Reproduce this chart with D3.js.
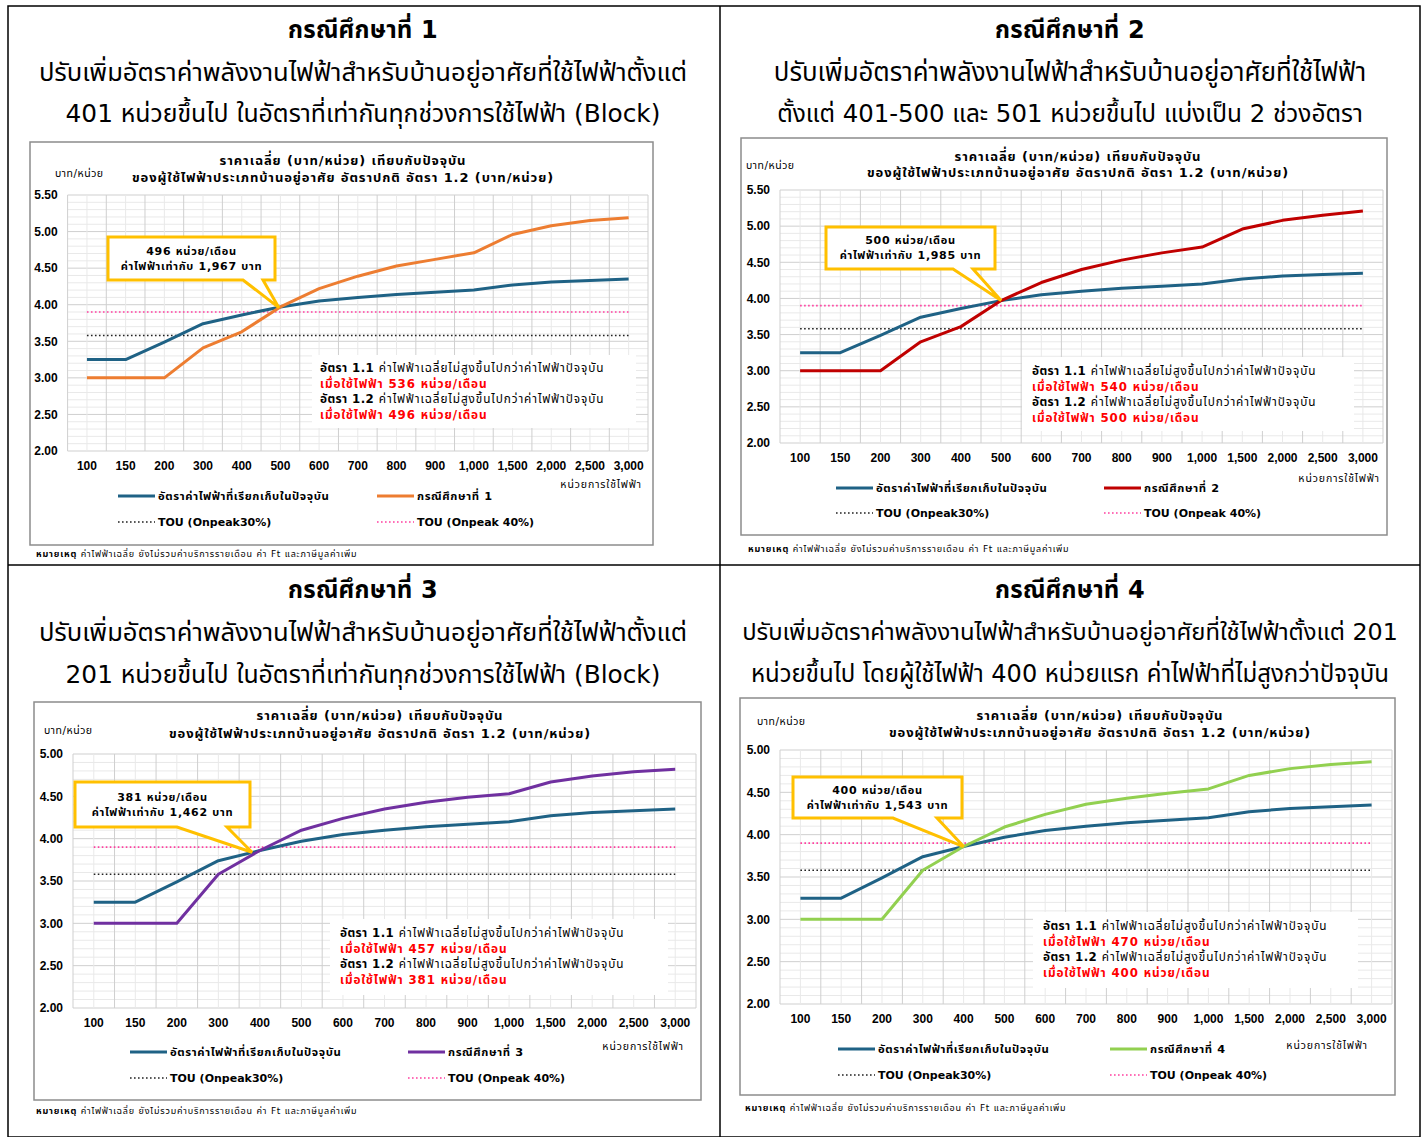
<!DOCTYPE html>
<meta charset="utf-8">
<title>กรณีศึกษา อัตราค่าไฟฟ้า</title>
<style>
body {
  margin: 0;
  background: #fff;
}
svg {
  font-family: Tahoma, "DejaVu Sans", "Noto Sans Thai", sans-serif;
}
.grid-minor { stroke: #e9e9e9; stroke-width: 1; }
.grid-major { stroke: #cfcfcf; stroke-width: 1; }
.axis path { display: none; }
.axis text { font-size: 12px; font-weight: bold; fill: #000; }
</style>
<body>
<script src="https://cdn.jsdelivr.net/npm/d3@7/dist/d3.min.js"></script>
<script>

// usage categories (units / month)
var units = ["100","150","200","300","400","500","600","700","800","900","1,000","1,500","2,000","2,500","3,000"];

// average price (baht/unit)
var currentRate = [3.25,3.25,3.49,3.74,3.86,3.97,4.05,4.10,4.14,4.17,4.20,4.27,4.31,4.33,4.35];
var case1Rate   = [3.00,3.00,3.00,3.41,3.63,3.97,4.22,4.39,4.53,4.62,4.71,4.96,5.08,5.15,5.19];
var case2Rate   = [3.00,3.00,3.00,3.40,3.61,3.97,4.22,4.40,4.53,4.63,4.71,4.96,5.08,5.15,5.21];
var case3Rate   = [3.00,3.00,3.00,3.58,3.86,4.10,4.24,4.35,4.43,4.49,4.53,4.67,4.74,4.79,4.82];
var case4Rate   = [3.00,3.00,3.00,3.58,3.86,4.09,4.24,4.36,4.43,4.49,4.54,4.70,4.78,4.83,4.86];
var tou30 = 3.58;
var tou40 = 3.90;

// break-even callouts and notes
var breakUnits = ["496","500","381","400"];
var breakBaht  = ["1,967","1,985","1,462","1,543"];
var note11Units = ["536","540","457","470"];
var note12Units = ["496","500","381","400"];
// where the break-even sits: category index + fraction toward the next one
var breakPos = [[4,0.96],[5,0],[3,0.81],[4,0]];
var breakVal = [3.96,3.97,3.84,3.86];

var headings = ["กรณีศึกษาที่ 1","กรณีศึกษาที่ 2","กรณีศึกษาที่ 3","กรณีศึกษาที่ 4"];
var subtitles = [
  ["ปรับเพิ่มอัตราค่าพลังงานไฟฟ้าสำหรับบ้านอยู่อาศัยที่ใช้ไฟฟ้าตั้งแต่", "401 หน่วยขึ้นไป ในอัตราที่เท่ากันทุกช่วงการใช้ไฟฟ้า (Block)"],
  ["ปรับเพิ่มอัตราค่าพลังงานไฟฟ้าสำหรับบ้านอยู่อาศัยที่ใช้ไฟฟ้า", "ตั้งแต่ 401-500 และ 501 หน่วยขึ้นไป แบ่งเป็น 2 ช่วงอัตรา"],
  ["ปรับเพิ่มอัตราค่าพลังงานไฟฟ้าสำหรับบ้านอยู่อาศัยที่ใช้ไฟฟ้าตั้งแต่", "201 หน่วยขึ้นไป ในอัตราที่เท่ากันทุกช่วงการใช้ไฟฟ้า (Block)"],
  ["ปรับเพิ่มอัตราค่าพลังงานไฟฟ้าสำหรับบ้านอยู่อาศัยที่ใช้ไฟฟ้าตั้งแต่ 201", "หน่วยขึ้นไป โดยผู้ใช้ไฟฟ้า 400 หน่วยแรก ค่าไฟฟ้าที่ไม่สูงกว่าปัจจุบัน"]
];
var caseSeries = [case1Rate, case2Rate, case3Rate, case4Rate];
var caseColors = ["#ed7d31","#c00000","#7030a0","#92d050"];
var yMaxes = [5.5, 5.5, 5.0, 5.0];

var chartTitle1 = "ราคาเฉลี่ย (บาท/หน่วย) เทียบกับปัจจุบัน";
var chartTitle2 = "ของผู้ใช้ไฟฟ้าประเภทบ้านอยู่อาศัย อัตราปกติ อัตรา 1.2 (บาท/หน่วย)";

var blue = "#1f6285";

// layout of each quadrant
var layout = [
  {cx:363, ty:[30,72,113], sub:[25.6,24.8], box:[30,142,623,403], plot:[67.6,648,195,451], ctx:343, cty:[160,177],
   ulbl:[55,173], xt:[642,484], leg:[496,522,118,377], foot:[36,554], note:[320,372], noteBox:[312,355,324,73],
   call:[108,237,167,43,243,263]},
  {cx:1070, ty:[30,72,113], sub:[25.8,24.4], box:[741,138,646,397], plot:[780,1383,190,443], ctx:1078, cty:[156,172],
   ulbl:[746,165], xt:[1380,478], leg:[488,513,836,1104], foot:[748,549], note:[1032,375], noteBox:[1022,357,332,74],
   call:[826,227,169,42,953,973]},
  {cx:363, ty:[590,632,674], sub:[25.6,24.8], box:[34,702,667,398], plot:[73,696,754,1008], ctx:380, cty:[715,733],
   ulbl:[44,730], xt:[684,1046], leg:[1052,1078,130,408], foot:[36,1111], note:[340,937], noteBox:[330,919,338,76],
   call:[75,782,175,45,177,227]},
  {cx:1070, ty:[590,632,674], sub:[23.8,24], box:[740,698,655,397], plot:[780,1392,750,1004], ctx:1100, cty:[715,732],
   ulbl:[757,721], xt:[1368,1045], leg:[1049,1075,838,1110], foot:[745,1108], note:[1043,930], noteBox:[1033,912,325,76],
   call:[793,777,169,41,893,937]}
];

var svg = d3.select("body").append("svg")
    .attr("width", 1426)
    .attr("height", 1137);

svg.append("rect").attr("width", 1426).attr("height", 1137).attr("fill", "#fff");

// table frame
svg.append("rect").attr("x", 8).attr("y", 6).attr("width", 1412).attr("height", 1131)
   .attr("fill", "none").attr("stroke", "#000").attr("stroke-width", 1.5);
svg.append("line").attr("x1", 720).attr("x2", 720).attr("y1", 6).attr("y2", 1137)
   .attr("stroke", "#000").attr("stroke-width", 1.5);
svg.append("line").attr("x1", 8).attr("x2", 1420).attr("y1", 565).attr("y2", 565)
   .attr("stroke", "#000").attr("stroke-width", 1.5);

layout.forEach(function(L, k){ drawPanel(L, k); });

function drawPanel(L, k) {
  var g = svg.append("g");

  g.append("text")
    .attr("x", L.cx).attr("y", L.ty[0]).attr("dy", "0.35em")
    .attr("text-anchor", "middle").style("font-size", "24px").style("font-weight", "bold")
    .style("letter-spacing", "0.2px")
    .text(headings[k]);
  subtitles[k].forEach(function(s, i){
    g.append("text")
      .attr("x", L.cx).attr("y", L.ty[i+1]).attr("dy", "0.35em")
      .attr("text-anchor", "middle").style("font-size", L.sub[i] + "px")
      .text(s);
  });

  // chart box
  g.append("rect")
    .attr("x", L.box[0]).attr("y", L.box[1]).attr("width", L.box[2]).attr("height", L.box[3])
    .attr("fill", "#fff").attr("stroke", "#8c8c8c").attr("stroke-width", 1.5);

  var x = d3.scaleBand().domain(units).range([L.plot[0], L.plot[1]]);
  var y = d3.scaleLinear().domain([2, yMaxes[k]]).range([L.plot[3], L.plot[2]]);
  var bw = x.bandwidth();
  function xc(u) { return x(u) + bw / 2; }

  // gridlines
  var minorY = d3.range(20, Math.round(yMaxes[k] * 10) + 1).map(function(v){ return v / 10; });
  g.selectAll(null).data(minorY).enter().append("line")
    .attr("class", function(d){ return Math.round(d * 10) % 5 == 0 ? "grid-major" : "grid-minor"; })
    .attr("x1", L.plot[0]).attr("x2", L.plot[1])
    .attr("y1", function(d){ return y(d); }).attr("y2", function(d){ return y(d); });
  g.selectAll(null).data(units).enter().append("line")
    .attr("class", "grid-minor")
    .attr("x1", xc).attr("x2", xc)
    .attr("y1", L.plot[2]).attr("y2", L.plot[3]);
  g.selectAll(null).data(d3.range(units.length + 1)).enter().append("line")
    .attr("class", "grid-major")
    .attr("x1", function(i){ return L.plot[0] + i * bw; })
    .attr("x2", function(i){ return L.plot[0] + i * bw; })
    .attr("y1", L.plot[2]).attr("y2", L.plot[3]);

  // axes
  g.append("g").attr("class", "axis")
    .attr("transform", "translate(" + L.plot[0] + ",0)")
    .call(d3.axisLeft(y).tickValues(d3.range(2, yMaxes[k] + 0.01, 0.5)).tickFormat(d3.format(".2f")).tickSize(0).tickPadding(10));
  g.append("g").attr("class", "axis")
    .attr("transform", "translate(0," + L.plot[3] + ")")
    .call(d3.axisBottom(x).tickSize(0).tickPadding(10));

  // titles
  [chartTitle1, chartTitle2].forEach(function(t, i){
    g.append("text").attr("x", L.ctx).attr("y", L.cty[i]).attr("dy", "0.35em")
      .attr("text-anchor", "middle").style("font-size", "13px").style("font-weight", "bold")
      .style("letter-spacing", "0.9px")
      .text(t);
  });
  g.append("text").attr("x", L.ulbl[0]).attr("y", L.ulbl[1]).attr("dy", "0.35em")
    .style("font-size", "10.5px").style("letter-spacing", "0.5px").text("บาท/หน่วย");
  g.append("text").attr("x", L.xt[0]).attr("y", L.xt[1]).attr("dy", "0.35em")
    .attr("text-anchor", "end").style("font-size", "10.5px").style("letter-spacing", "0.9px")
    .text("หน่วยการใช้ไฟฟ้า");

  // TOU reference lines
  g.append("line")
    .attr("x1", xc(units[0])).attr("x2", xc(units[units.length - 1]))
    .attr("y1", y(tou30)).attr("y2", y(tou30))
    .attr("stroke", "#222").attr("stroke-width", 1.6).attr("stroke-dasharray", "1.6,2.4");
  g.append("line")
    .attr("x1", xc(units[0])).attr("x2", xc(units[units.length - 1]))
    .attr("y1", y(tou40)).attr("y2", y(tou40))
    .attr("stroke", "#ff3fa0").attr("stroke-width", 1.6).attr("stroke-dasharray", "1.6,2.4");

  // notes box
  g.append("rect")
    .attr("x", L.noteBox[0]).attr("y", L.noteBox[1]).attr("width", L.noteBox[2]).attr("height", L.noteBox[3])
    .attr("fill", "#fff");
  var notes = [
    ["อัตรา 1.1", " ค่าไฟฟ้าเฉลี่ยไม่สูงขึ้นไปกว่าค่าไฟฟ้าปัจจุบัน", null],
    [null, null, "เมื่อใช้ไฟฟ้า " + note11Units[k] + " หน่วย/เดือน"],
    ["อัตรา 1.2", " ค่าไฟฟ้าเฉลี่ยไม่สูงขึ้นไปกว่าค่าไฟฟ้าปัจจุบัน", null],
    [null, null, "เมื่อใช้ไฟฟ้า " + note12Units[k] + " หน่วย/เดือน"]
  ];
  notes.forEach(function(n, i){
    var t = g.append("text").attr("x", L.note[0]).attr("y", L.note[1] + i * 15.7)
      .style("font-size", "11.8px").style("letter-spacing", "0.9px");
    if (n[0]) {
      t.append("tspan").style("font-weight", "bold").style("letter-spacing", "0.4px").text(n[0]);
      t.append("tspan").text(n[1]);
    } else {
      t.append("tspan").style("font-weight", "bold").attr("fill", "#ff0000").text(n[2]);
    }
  });

  // series
  var line = d3.line()
    .x(function(d, i){ return xc(units[i]); })
    .y(function(d){ return y(d); });
  g.append("path").datum(currentRate).attr("d", line)
    .attr("fill", "none").attr("stroke", blue).attr("stroke-width", 3).attr("stroke-linejoin", "round");
  g.append("path").datum(caseSeries[k]).attr("d", line)
    .attr("fill", "none").attr("stroke", caseColors[k]).attr("stroke-width", 3).attr("stroke-linejoin", "round");

  // callout
  var c = L.call;
  var tipX = xc(units[breakPos[k][0]]) + breakPos[k][1] * bw;
  var tipY = y(breakVal[k]);
  var cp = d3.path();
  cp.moveTo(c[0], c[1]);
  cp.lineTo(c[0] + c[2], c[1]);
  cp.lineTo(c[0] + c[2], c[1] + c[3]);
  cp.lineTo(c[5], c[1] + c[3]);
  cp.lineTo(tipX, tipY);
  cp.lineTo(c[4], c[1] + c[3]);
  cp.lineTo(c[0], c[1] + c[3]);
  cp.closePath();
  g.append("path").attr("d", cp.toString())
    .attr("fill", "#fff").attr("stroke", "#ffc000").attr("stroke-width", 3).attr("stroke-linejoin", "miter");
  g.append("text").attr("x", c[0] + c[2] / 2).attr("y", c[1] + c[3] / 2 - 7.5).attr("dy", "0.35em")
    .attr("text-anchor", "middle").style("font-size", "11px").style("font-weight", "bold")
    .style("letter-spacing", "0.7px")
    .text(breakUnits[k] + " หน่วย/เดือน");
  g.append("text").attr("x", c[0] + c[2] / 2).attr("y", c[1] + c[3] / 2 + 7.5).attr("dy", "0.35em")
    .attr("text-anchor", "middle").style("font-size", "11px").style("font-weight", "bold")
    .style("letter-spacing", "0.7px")
    .text("ค่าไฟฟ้าเท่ากับ " + breakBaht[k] + " บาท");

  // legend
  var lg = L.leg;
  var legItems = [
    {x: lg[2], y: lg[0], color: blue, w: 3, dash: null, ls: 0.6, fs: 11.3, label: "อัตราค่าไฟฟ้าที่เรียกเก็บในปัจจุบัน"},
    {x: lg[3], y: lg[0], color: caseColors[k], w: 3, dash: null, ls: 0.6, fs: 11.3, label: headings[k]},
    {x: lg[2], y: lg[1], color: "#222", w: 1.6, dash: "1.6,2.4", ls: 0, fs: 11, label: "TOU (Onpeak30%)"},
    {x: lg[3], y: lg[1], color: "#ff3fa0", w: 1.6, dash: "1.6,2.4", ls: 0, fs: 11, label: "TOU (Onpeak 40%)"}
  ];
  legItems.forEach(function(it){
    g.append("line").attr("x1", it.x).attr("x2", it.x + 37).attr("y1", it.y).attr("y2", it.y)
      .attr("stroke", it.color).attr("stroke-width", it.w).attr("stroke-dasharray", it.dash);
    g.append("text").attr("x", it.x + 40).attr("y", it.y).attr("dy", "0.35em")
      .style("font-size", it.fs + "px").style("font-weight", "bold").style("letter-spacing", it.ls + "px")
      .text(it.label);
  });

  // footnote
  var f = g.append("text").attr("x", L.foot[0]).attr("y", L.foot[1]).attr("dy", "0.35em")
    .style("font-size", "9px").style("letter-spacing", "0.8px");
  f.append("tspan").style("font-weight", "bold").text("หมายเหตุ");
  f.append("tspan").text(" ค่าไฟฟ้าเฉลี่ย ยังไม่รวมค่าบริการรายเดือน ค่า Ft และภาษีมูลค่าเพิ่ม");
}
</script>
